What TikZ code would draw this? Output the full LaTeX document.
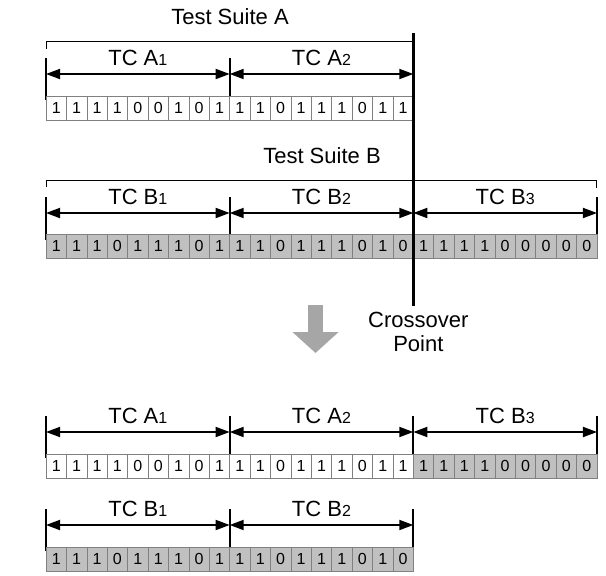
\documentclass[tikz,border=0pt]{standalone}
\usepackage{fontspec}
\setmainfont{Liberation Sans}
\usetikzlibrary{arrows.meta, calc}

\definecolor{cellgray}{RGB}{192,192,192}
\definecolor{edgegray}{RGB}{128,128,128}
\definecolor{markgray}{RGB}{166,166,166}
\newcommand{\tcidx}[1]{{\fontsize{16}{16}\selectfont #1}}

\begin{document}
\begin{tikzpicture}[
  x=1pt, y=-1pt,
  >={Triangle[length=14pt,width=10pt]},
  cell/.style={
    draw=edgegray,
    line width=0.6pt,
    fill=white,
    minimum width=\cw pt,
    minimum height=24pt,
    inner sep=0pt,
    font=\fontsize{16}{16}\selectfont
  },
  gcell/.style={cell, fill=cellgray},
  tick/.style={line width=1.8pt},
  dim/.style={<->, line width=1.8pt},
  bracket/.style={line width=1pt},
  tc/.style={anchor=base, yshift=9pt, inner sep=0pt, font=\fontsize{22}{24}\selectfont},
  suite/.style={anchor=base, inner sep=0pt, font=\fontsize{22}{24}\selectfont}
]

\useasboundingbox (0,0) rectangle (606,576);

% --- Cell geometry ---
\pgfmathsetmacro{\xl}{46}      % left edge of all rows
\pgfmathsetmacro{\cw}{20.407}  % cell width
\pgfmathsetmacro{\xm}{\xl+9*\cw}   % end of first test case
\pgfmathsetmacro{\xc}{\xl+18*\cw}  % crossover point
\pgfmathsetmacro{\xr}{\xl+27*\cw}  % end of suite B

% --- Test Suite A ---
\node[suite] (suiteA) at (230, 24) {Test Suite A};
\coordinate (bA0) at (\xl, 41);
\coordinate (bA1) at (\xc, 41);
\draw[bracket] (bA0) ++(0,8) -- (bA0) -- (bA1);

\coordinate (pA0) at (\xl, 74);
\coordinate (pA1) at (\xm, 74);
\coordinate (pA2) at (\xc, 74);
\foreach \p in {pA0,pA1} \draw[tick] (\p) ++(0,-16) -- ++(0,42);
\draw[dim] (pA0) -- node[tc] (lA1) {TC A\tcidx{1}} (pA1);
\draw[dim] (pA1) -- node[tc] (lA2) {TC A\tcidx{2}} (pA2);

\foreach \b [count=\i] in {1,1,1,1,0,0,1,0,1,1,1,0,1,1,1,0,1,1}
  \node[cell] (a\i) at ({\xl+(\i-0.5)*\cw}, 108) {\b};

% --- Test Suite B ---
\node[suite] (suiteB) at (322, 163) {Test Suite B};
\coordinate (bB0) at (\xl, 180);
\coordinate (bB1) at (\xr, 180);
\draw[bracket] (bB0) ++(0,7) -- (bB0) -- (bB1) -- ++(0,8);

\coordinate (pB0) at (\xl, 213);
\coordinate (pB1) at (\xm, 213);
\coordinate (pB2) at (\xc, 213);
\coordinate (pB3) at (\xr, 213);
\foreach \p in {pB0,pB1,pB3} \draw[tick] (\p) ++(0,-16) -- ++(0,43);
\draw[dim] (pB0) -- node[tc] (lB1) {TC B\tcidx{1}} (pB1);
\draw[dim] (pB1) -- node[tc] (lB2) {TC B\tcidx{2}} (pB2);
\draw[dim] (pB2) -- node[tc] (lB3) {TC B\tcidx{3}} (pB3);

\foreach \b [count=\i] in {1,1,1,0,1,1,1,0,1,1,1,0,1,1,1,0,1,0,1,1,1,1,0,0,0,0,0}
  \node[gcell] (b\i) at ({\xl+(\i-0.5)*\cw}, 246) {\b};

% --- Crossover point ---
\coordinate (cxTop) at (\xc, 33);
\coordinate (cxBot) at (\xc, 306);
\draw[line width=3pt] (cxTop) -- (cxBot);
\node[anchor=north, align=center, inner sep=0pt, font=\fontsize{22}{24}\selectfont]
  (cxLabel) at ([xshift=5pt, yshift=-6pt]cxBot) {Crossover\\Point};

% --- Big arrow: before -> after ---
\coordinate (mTop) at (315.5, 305);
\coordinate (mTip) at (315.5, 353);
\draw[markgray, line width=15pt, -{Triangle[length=21pt,width=45pt]}] (mTop) -- (mTip);

% --- Offspring 1: A1 A2 B3 ---
\coordinate (pC0) at (\xl, 432);
\coordinate (pC1) at (\xm, 432);
\coordinate (pC2) at (\xc, 432);
\coordinate (pC3) at (\xr, 432);
\foreach \p in {pC0,pC1,pC2,pC3} \draw[tick] (\p) ++(0,-16) -- ++(0,42);
\draw[dim] (pC0) -- node[tc] (lC1) {TC A\tcidx{1}} (pC1);
\draw[dim] (pC1) -- node[tc] (lC2) {TC A\tcidx{2}} (pC2);
\draw[dim] (pC2) -- node[tc] (lC3) {TC B\tcidx{3}} (pC3);

\foreach \b [count=\i] in {1,1,1,1,0,0,1,0,1,1,1,0,1,1,1,0,1,1}
  \node[cell] (c\i) at ({\xl+(\i-0.5)*\cw}, 466) {\b};
\foreach \b [count=\i from 19] in {1,1,1,1,0,0,0,0,0}
  \node[gcell] (c\i) at ({\xl+(\i-0.5)*\cw}, 466) {\b};

% --- Offspring 2: B1 B2 ---
\coordinate (pD0) at (\xl, 525);
\coordinate (pD1) at (\xm, 525);
\coordinate (pD2) at (\xc, 525);
\foreach \p in {pD0,pD1,pD2} \draw[tick] (\p) ++(0,-16) -- ++(0,42);
\draw[dim] (pD0) -- node[tc] (lD1) {TC B\tcidx{1}} (pD1);
\draw[dim] (pD1) -- node[tc] (lD2) {TC B\tcidx{2}} (pD2);

\foreach \b [count=\i] in {1,1,1,0,1,1,1,0,1,1,1,0,1,1,1,0,1,0}
  \node[gcell] (d\i) at ({\xl+(\i-0.5)*\cw}, 559) {\b};

\end{tikzpicture}
\end{document}
